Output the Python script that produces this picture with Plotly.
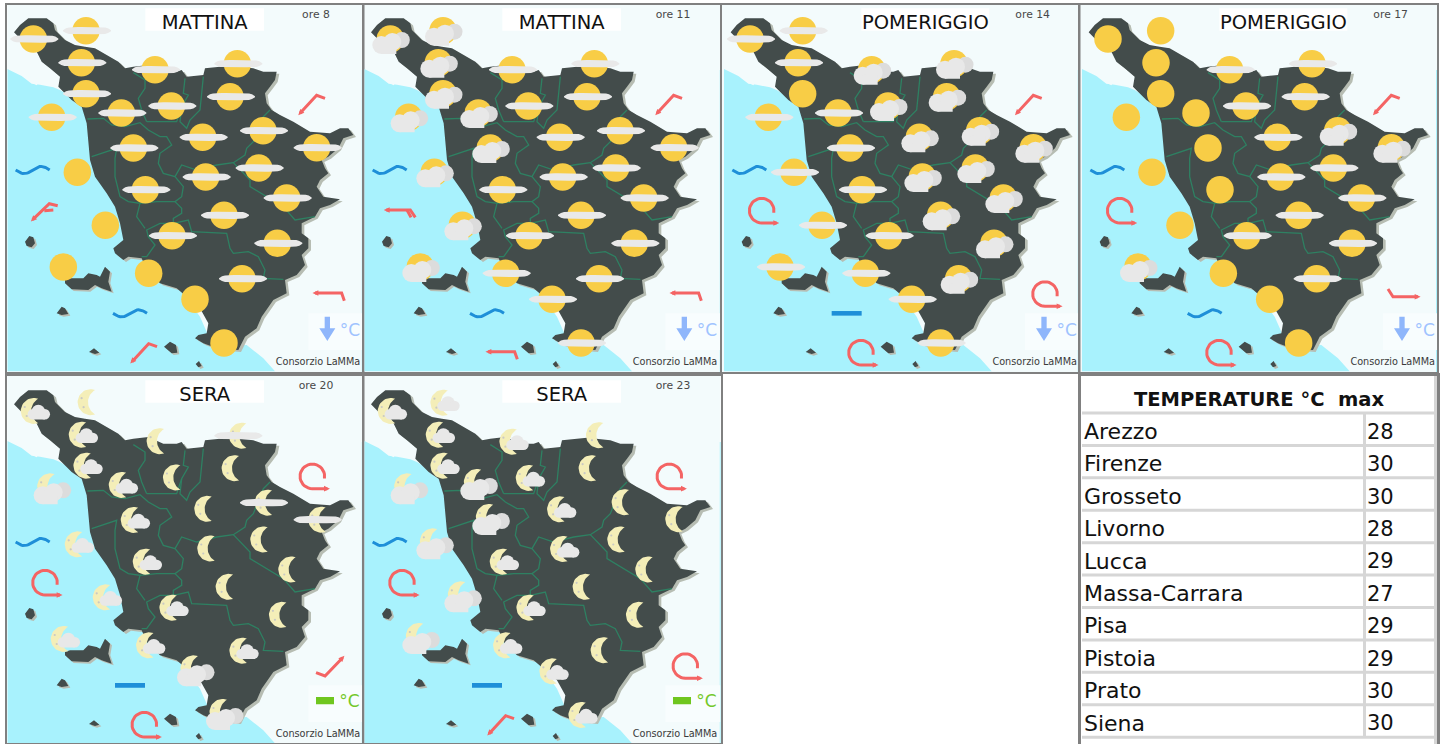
import math
import plotly.graph_objects as go

# ---------- data (map units: 3 per screen pixel) ----------
station_x = [100,258,244,465,712,258,155,364,514,690,400,608,789,950,232,617,776,436,316,672,860,516,832,190,446,726,585,672]
station_y = [117,92,188,209,191,281,352,339,318,290,444,412,392,443,517,531,504,569,676,646,594,707,730,801,820,836,898,1029]

hours = ["ore 8","ore 11","ore 14","ore 17","ore 20","ore 23"]
periods = ["MATTINA","MATTINA","POMERIGGIO","POMERIGGIO","SERA","SERA"]
# S sun, H sun+haze, P sun+cloud, M moon, N moon+small cloud, B moon+big cloud, Q moon+haze
sky = [
 "HHHHHHHHHHHHHHSHHHSHHHHSSHSS",
 "PPPHHPPPHHPHHHPHHHPHHHHPHHHH",
 "HHHPPSHHPPHPPPHPPHHPPHPHHPHH",
 "SSSHHSSSHHSHPPSHHSSHHHHPSHSS",
 "NMNMQNBNMMNMQQNMMNNMMNMNNNBB",
 "NNNNMNBBNMBNMMBNMNBMMNMBNMNN",
]
# wind at the four anchors: north-east, west sea, south-east, south
wind = [
 ["SW","SW2","W","SW"],
 ["SW","W2","W","W"],
 ["SW","R","R","R"],
 ["SW","R","E","R"],
 ["R","R","NE","R"],
 ["R","R","R","SW"],
]
# sea state: west sea, south sea
sea = [["wave","wave"],["wave","wave"],["wave","bar"],["wave","wave"],["wave","bar"],["wave","bar"]]
trend = ["down","down","down","down","flat","flat"]

cities = ["Arezzo","Firenze","Grosseto","Livorno","Lucca","Massa-Carrara","Pisa","Pistoia","Prato","Siena"]
temps = [28,30,30,28,29,27,29,29,30,30]

land_x = [42,60,85,140,160,165,195,225,255,285,320,355,375,400,445,490,530,545,560,610,615,660,690,760,790,830,825,810,795,800,815,840,880,930,990,1020,1045,1060,1030,1015,985,965,975,985,960,950,970,1020,990,960,945,905,905,925,925,905,915,890,855,860,820,785,770,735,715,650,610,585,595,620,625,600,565,530,480,440,425,385,370,345,340,370,360,345,320,285,270,265,260,245,215,175,180,150,125,105,70]
land_y = [97,75,55,55,70,90,120,135,140,145,165,185,205,200,195,215,215,210,230,225,205,200,197,205,215,215,240,260,280,310,330,345,365,395,400,385,385,405,415,445,470,480,505,520,540,560,590,598,615,625,650,670,700,715,745,765,795,825,840,880,900,950,985,1010,1050,1045,1030,1015,1005,1000,970,925,895,865,850,810,775,770,780,760,745,720,670,620,580,530,480,420,370,320,300,260,230,205,185,145,125]
sea_x = [22,65,95,120,160,180,260,285,310,420,600,640,740,790,825,22]
sea_y = [207,228,251,254,262,270,320,420,520,700,950,1040,1035,1075,1114,1114]
spit_x = [90,106,114,110,98,95]
spit_y = [230,230,250,256,250,240]
islands = [
 ([75,88,100,105,95,80],[725,708,712,730,742,738]),
 ([195,210,250,265,290,300,315,330,325,335,305,285,265,215,195],[840,835,835,820,825,830,800,815,845,875,865,855,870,868,850]),
 ([170,185,195,205,185],[940,920,925,942,945]),
 ([267,282,298,285],[1056,1045,1058,1062]),
 ([492,510,528,532,515],[1040,1025,1035,1058,1060]),
 ([587,597,605,595],[1092,1083,1098,1102]),
]
borders = [
 ([400,435,435,415,425,440],[218,240,265,295,330,365]),
 ([262,310,335,375,420,445,480,500,515,480,475,490,525,550,545,525,545,545,520,520,480,440,445,465,440,425],[357,355,375,380,368,390,410,410,435,460,490,520,530,560,590,605,625,640,655,670,670,690,710,735,770,770]),
 ([275,330,350,345,345,360,385,420,410,435],[470,450,445,475,530,590,605,610,650,685]),
 ([420,470,525],[610,605,605]),
 ([520,565,575,680,690,700,745,775,795,790,850],[670,660,695,700,745,760,755,770,810,835,838]),
 ([525,545,590,650,700,735,740,760,790,810],[530,495,510,495,488,465,445,425,350,330]),
 ([700,750,750,800,850,885,945],[488,540,560,590,620,660,650]),
 ([555,550,565,545,540,560,570,600,610],[235,280,285,320,365,385,360,330,230]),
 ([440,530,545],[365,365,320]),
]

# ---------- page layout ----------
W, H = 1442, 744
panels = [  # x0,x1,y0,y1 on the page, map shift in pixels
 (7.3,362.7,4.7,372,0,0),
 (364.3,720.7,4.7,372,357,0),
 (722,1078.7,4.7,372,716.67,0),
 (1080.3,1437,4.7,372,1074.67,0),
 (7.3,362.7,376,743,0,372),
 (364.3,720.7,376,743,357,372),
]
C_BG, C_SEA, C_LAND, C_SHADOW = "#f3fbfc", "#a8f2fd", "#434c4b", "#b7bdb3"
C_SUN, C_MOON, C_HAZE, C_CF, C_CB = "#f8cd46", "#f4eeb8", "#e9e9e9", "#e8e8e8", "#dcdcdc"
C_WIND, C_WAVE, C_BORDER = "#f46464", "#1e8fd8", "#2e8062"

ANCH = {"NE":(937,313),"WS":(135,632),"SE":(985,882),"S":(433,1058)}
WIND_SHAPES = {
 "SW":[[(-12.3,9),(4.3,-9),(12.7,-6)]],
 "SW2":[[(-12.3,9),(4.3,-7),(12.7,-5)],[(-0.7,0),(8.3,-0.7)]],
 "W":[[(-13.3,-1),(13.3,-1),(16,6.7)]],
 "W2":[[(-15.7,-0.7),(8.3,-0.7),(13.3,6.7)],[(5,-0.7),(9,6.7)]],
 "E":[[(15,2.7),(-10,2.7),(-15,-5)]],
 "NE":[[(14.3,-8.3),(-3.3,10),(-12.3,6.7)]],
}

def join(polys):
    xs, ys = [], []
    for px, py in polys:
        xs += list(px) + [None]
        ys += list(py) + [None]
    return xs, ys

def moon_poly(x, y, dx, dy):
    cx = x + 3 * dx; cy = y + 3 * dy
    h = math.radians(70)
    r = 13.0
    hx, hy = r * math.cos(h), r * math.sin(h)
    out = [(r * math.cos(a), r * math.sin(a)) for a in [h + (2 * math.pi - 2 * h) * i / 30 for i in range(31)]]
    c = 11.5
    R = math.hypot(c - hx, hy)
    s = math.atan2(hy, hx - c)
    inn = [(c + R * math.cos(a), R * math.sin(a)) for a in [(2 * math.pi - s) - (2 * math.pi - 2 * s) * i / 20 for i in range(21)]]
    pts = out + inn
    return [cx + 3 * p[0] for p in pts], [cy + 3 * p[1] for p in pts]

def haze_poly(x, y):
    top = [(-24 + i * 3, -3.2 * (1 - (abs(-24 + i * 3) / 24) ** 7) - 0.5) for i in range(17)]
    bot = [(p[0], -p[1]) for p in reversed(top)]
    pts = top + bot
    return [x + 3 * p[0] for p in pts], [y + 3 * p[1] for p in pts]

def arc_R(x, y):
    pts = [(12.3 * math.cos(-a), 12.3 * math.sin(-a)) for a in [math.radians(-10 + i * 10) for i in range(29)]]
    pts.append((15.0, 12.3))
    return [x + 3 * p[0] for p in pts], [y + 3 * p[1] for p in pts]

def head(x0, y0, x1, y1):
    ang = math.atan2(y1 - y0, x1 - x0)
    L = 13
    xs = [x1 + L * math.cos(ang + s) for s in (2.45, -2.45)] + [x1 + L * 0.6 * math.cos(ang)]
    ys = [y1 + L * math.sin(ang + s) for s in (2.45, -2.45)] + [y1 + L * 0.6 * math.sin(ang)]
    return xs, ys

def rect(x, y, a, b, c, d):
    return [x + 3 * a, x + 3 * b, x + 3 * b, x + 3 * a], [y + 3 * c, y + 3 * c, y + 3 * d, y + 3 * d]

fig = go.Figure()
layout_axes = {}

for i, (x0, x1, y0, y1, sx, sy) in enumerate(panels):
    n = i + 1
    suf = "" if n == 1 else str(n)
    xr = ((x0 - sx) * 3, (x1 - sx) * 3)
    yr = ((y0 - sy) * 3, (y1 - sy) * 3)
    axx, axy = "x" + suf, "y" + suf
    layout_axes["xaxis" + suf] = dict(domain=[x0 / W, x1 / W], range=list(xr), anchor=axy, visible=True,
        showgrid=False, zeroline=False, showticklabels=False, ticks="", showline=True, mirror=True, linecolor="#808080", linewidth=2)
    layout_axes["yaxis" + suf] = dict(domain=[1 - y1 / H, 1 - y0 / H], range=[yr[1], yr[0]], anchor=axx,
        showgrid=False, zeroline=False, showticklabels=False, ticks="", showline=True, mirror=True, linecolor="#808080", linewidth=2)

    def add_fill(polys, color, **kw):
        xs, ys = join(polys)
        fig.add_trace(go.Scatter(x=xs, y=ys, mode="lines", fill="toself", fillcolor=color, line=dict(width=0, color=color),
                                 xaxis=axx, yaxis=axy, hoverinfo="skip", showlegend=False, **kw))
    def add_line(polys, color, width, **kw):
        xs, ys = join(polys)
        fig.add_trace(go.Scatter(x=xs, y=ys, mode="lines", line=dict(width=width, color=color, **kw),
                                 xaxis=axx, yaxis=axy, hoverinfo="skip", showlegend=False))
    def add_dots(xs, ys, sizes, color):
        fig.add_trace(go.Scatter(x=xs, y=ys, mode="markers", marker=dict(size=sizes, color=color, opacity=1, line=dict(width=0)),
                                 xaxis=axx, yaxis=axy, hoverinfo="skip", showlegend=False))
    def add_text(xs, ys, ts, size, color, pos="middle center", family="DejaVu Sans"):
        fig.add_trace(go.Scatter(x=xs, y=ys, mode="text", text=ts, textposition=pos, textfont=dict(size=size, color=color, family=family),
                                 xaxis=axx, yaxis=axy, hoverinfo="skip", showlegend=False, cliponaxis=False))

    # base map
    add_fill([([xr[0], xr[1], xr[1], xr[0]], [yr[0], yr[0], yr[1], yr[1]])], C_BG)
    add_fill([(sea_x, sea_y)], C_SEA)
    add_fill([(spit_x, spit_y)], C_BG)
    add_line([([xr[1] - 1, xr[1] - 1], [210, yr[1]])], C_SEA, 1.2)
    shadow = [([v + 8 for v in land_x], [v + 6 for v in land_y])] + [([v + 6 for v in a], [v + 5 for v in b]) for a, b in islands]
    add_fill(shadow, C_SHADOW)
    add_fill([(land_x, land_y)] + islands, C_LAND)
    add_line(borders, C_BORDER, 1.3)

    # temperature trend box
    add_fill([([925, 1090, 1090, 925], [940, 940, 1050, 1050])], "#f8fdfe")
    if trend[i] == "down":
        tx, ty = 982, 985
        add_fill([([tx - 8, tx + 8, tx + 8, tx + 24, tx, tx - 24, tx - 8], [ty - 35, ty - 35, ty, ty, ty + 38, ty, ty])], "#8fb6fb")
        add_text([1050], [996], ["°C"], 17, "#9fc3ff")
    else:
        add_fill([([948, 1002, 1002, 948], [975, 975, 997, 997])], "#6fc61f")
        add_text([1048], [991], ["°C"], 17, "#74c82a")

    # sky icons
    codes = sky[i]
    sx_, sy_ = station_x, station_y
    idx = lambda kinds: [k for k, c in enumerate(codes) if c in kinds]
    sun_i = idx("SHP")
    if sun_i:
        add_dots([sx_[k] for k in sun_i], [sy_[k] for k in sun_i], 27.5, C_SUN)
    moons = []
    dots_x, dots_y = [], []
    for k in idx("MNBQ"):
        c = codes[k]
        dx, dy = {"M": (4.6, -0.5), "Q": (4.6, 0), "N": (0.4, 0), "B": (-1.5, -3)}[c]
        moons.append(moon_poly(sx_[k], sy_[k], dx, dy))
        for a, b in ((-9, -4), (-7, 5)):
            dots_x.append(sx_[k] + 3 * (dx + a)); dots_y.append(sy_[k] + 3 * (dy + b))
    if moons:
        add_fill(moons, C_MOON)
        add_dots(dots_x, dots_y, 2.2, "#c9c9c4")
    # clouds
    bigs = idx("PB")
    if bigs:
        bx, by, bs = [], [], []
        for k in bigs:
            for a, b, r in ((11.5, 1, 8),):
                bx.append(sx_[k] + 3 * a); by.append(sy_[k] + 3 * b); bs.append(2 * r)
        add_dots(bx, by, bs, C_CB)
        fx, fy, fs = [], [], []
        for k in bigs:
            for a, b, r in ((-9, 6, 9), (2, 3, 9)):
                fx.append(sx_[k] + 3 * a); fy.append(sy_[k] + 3 * b); fs.append(2 * r)
        add_dots(fx, fy, fs, C_CF)
        add_fill([rect(sx_[k], sy_[k], -9, 6, 6, 15) for k in bigs], C_CF)
    smalls = idx("N")
    if smalls:
        fx, fy, fs = [], [], []
        for k in smalls:
            for a, b, r in ((-0.5, 3.2, 5.2), (5, 0.5, 6.8), (11.5, 3.2, 5.2)):
                fx.append(sx_[k] + 3 * a); fy.append(sy_[k] + 3 * b); fs.append(2 * r)
        add_dots(fx, fy, fs, C_CF)
        add_fill([rect(sx_[k], sy_[k], -0.5, 11.5, 3, 8.4) for k in smalls], C_CF)
    hz = idx("HQ")
    if hz:
        add_fill([haze_poly(sx_[k] + 3, sy_[k]) for k in hz], C_HAZE)

    # wind
    lines, heads = [], []
    for key, w in zip(("NE", "WS", "SE", "S"), wind[i]):
        ax, ay = ANCH[key]
        if w == "R":
            px, py = arc_R(ax, ay)
            lines.append((px, py))
            heads.append(head(px[-2], py[-2], px[-1], py[-1]))
        else:
            for j, seg in enumerate(WIND_SHAPES[w]):
                px = [ax + 3 * p[0] for p in seg]; py = [ay + 3 * p[1] for p in seg]
                lines.append((px, py))
                if j == 0:
                    heads.append(head(px[1], py[1], px[0], py[0]))
    add_line(lines, C_WIND, 3)
    add_fill(heads, C_WIND)

    # sea state
    for (cx, cy), kind in zip(((98, 510), (390, 940)), sea[i]):
        if kind == "wave":
            ts = [j / 24 for j in range(25)]
            add_line([([cx + 3 * (-17 + 34 * t) for t in ts], [cy + 3 * 3.6 * math.sin(2 * math.pi * t) for t in ts])], C_WAVE, 3)
        else:
            add_line([([cx - 45, cx + 45], [cy, cy])], C_WAVE, 4.6)

    # labels
    cx = 626 if periods[i] == "POMERIGGIO" else 614
    half = 192 if periods[i] == "POMERIGGIO" else 178
    add_fill([([cx - half, cx + half, cx + half, cx - half], [25, 25, 92, 92])], "#ffffff")
    add_text([cx], [71], [periods[i]], 19.5, "#111111")
    add_text([948], [45 if i < 4 else 42], [hours[i]], 10.8, "#484848")
    add_text([954], [1089], ["Consorzio LaMMa"], 9.7, "#3a3a3a")

# ---------- temperature table ----------
tx0, tx1, ty0, ty1 = 1081, 1437, 376, 745
row0, step = 429.2, 32.42
to_row = lambda px: (px - row0) / step
layout_axes["xaxis7"] = dict(domain=[tx0 / W, tx1 / W], range=[tx0, tx1], anchor="y7", showgrid=False, zeroline=False,
    showticklabels=False, ticks="", showline=True, mirror=True, linecolor="#808080", linewidth=2.5)
layout_axes["yaxis7"] = dict(domain=[0, 1 - ty0 / H], range=[to_row(744), to_row(ty0)], anchor="x7", showgrid=False, zeroline=False,
    showticklabels=False, ticks="", showline=True, mirror=True, linecolor="#808080", linewidth=2.5)

rows = list(range(len(cities)))
text_rows = [r + 0.13 for r in rows]
grid = []
for r in rows + [len(cities)]:
    grid.append(([1082, 1436], [r - 0.5, r - 0.5]))
grid.append(([1364.5, 1364.5], [-0.5, len(cities) - 0.5]))
grid.append(([1435.5, 1435.5], [to_row(ty0), to_row(744)]))
gx, gy = join(grid)
fig.add_trace(go.Scatter(x=gx, y=gy, mode="lines", line=dict(color="#d6d6d6", width=3), xaxis="x7", yaxis="y7", hoverinfo="skip", showlegend=False))
fig.add_trace(go.Scatter(x=[1084] * len(cities), y=text_rows, mode="text", text=cities, textposition="middle right",
    textfont=dict(family="DejaVu Sans", size=22, color="#111111"), xaxis="x7", yaxis="y7", hoverinfo="skip", showlegend=False))
fig.add_trace(go.Scatter(x=[1367] * len(temps), y=text_rows, mode="text", text=[str(t) for t in temps], textposition="middle right",
    textfont=dict(family="DejaVu Sans", size=21, color="#111111"), xaxis="x7", yaxis="y7", hoverinfo="skip", showlegend=False))
fig.add_trace(go.Scatter(x=[1259], y=[to_row(401)], mode="text", text=["TEMPERATURE °C  max"], textposition="middle center",
    textfont=dict(family="DejaVu Sans", size=19.5, color="#111111", weight="bold"), xaxis="x7", yaxis="y7", hoverinfo="skip", showlegend=False))

fig.update_layout(width=W, height=H, margin=dict(l=0, r=0, t=0, b=0), paper_bgcolor="white", plot_bgcolor="white",
                  showlegend=False, **layout_axes)
fig.write_html("out.html", config={"displayModeBar": False},
               post_script="document.body.style.margin='0';document.body.style.overflow='hidden';")
